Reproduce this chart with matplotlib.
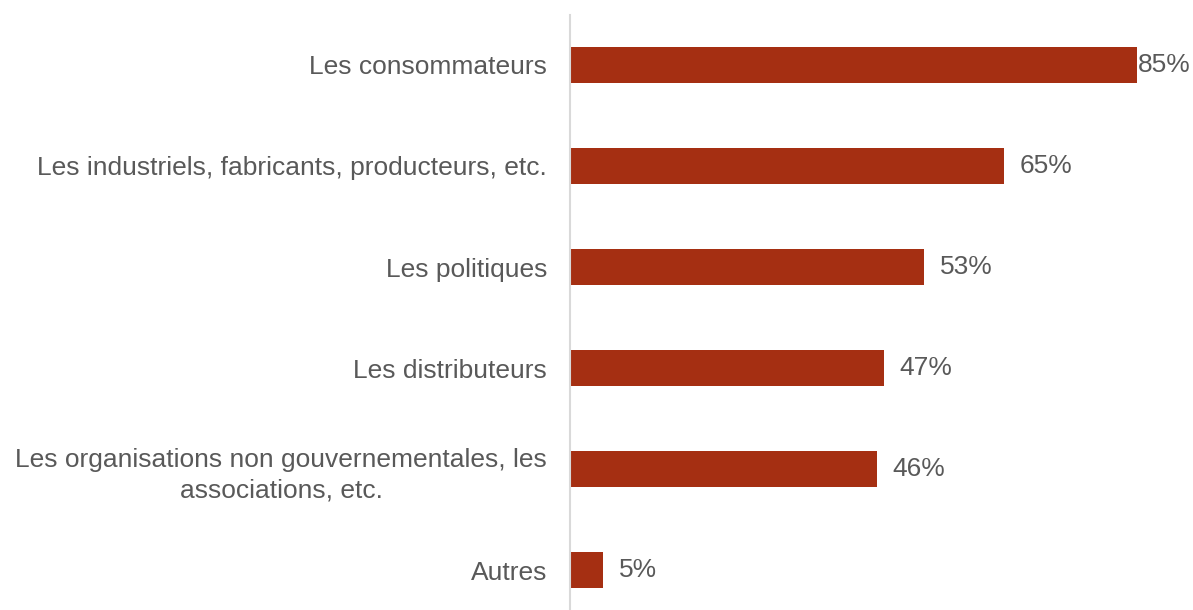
import matplotlib.pyplot as plt

plt.rcParams['font.family'] = ['Liberation Sans', 'DejaVu Sans']

categories = [
    "Les consommateurs",
    "Les industriels, fabricants, producteurs, etc.",
    "Les politiques",
    "Les distributeurs",
    "Les organisations non gouvernementales, les\nassociations, etc.",
    "Autres",
]
values = [85, 65, 53, 47, 46, 5]

bar_color = "#A52F12"
text_color = "#595959"

fig = plt.figure(figsize=(11.93, 6.10), dpi=100)
ax = fig.add_axes([570 / 1193, -10.5 / 610, 623 / 1193, 606 / 610])

pos = list(range(len(categories)))
ax.barh(pos, values, height=0.36, color=bar_color)
ax.set_ylim(len(categories) - 0.5, -0.5)
ax.set_xlim(0, 623 / 6.671)

ax.set_yticks(pos)
ax.set_yticklabels(categories, fontsize=19, color=text_color)
ax.tick_params(axis="y", length=0, pad=16.5)
ax.set_xticks([])

# multi-line labels are centred on themselves, right-aligned to the axis
for lbl in ax.get_yticklabels():
    lbl.set_multialignment("center")
    lbl.set_linespacing(1.35)

for s in ["top", "right", "bottom"]:
    ax.spines[s].set_visible(False)
ax.spines["left"].set_color("#D9D9D9")
ax.spines["left"].set_linewidth(1.5)

for p, v in zip(pos, values):
    off = 0.5 if v > 80 else 11.5
    ax.annotate(f"{v}%", xy=(v, p), xytext=(off, 0), textcoords="offset points",
                va="center", ha="left", fontsize=19, color=text_color)

fig.savefig("out.png", dpi=100)
